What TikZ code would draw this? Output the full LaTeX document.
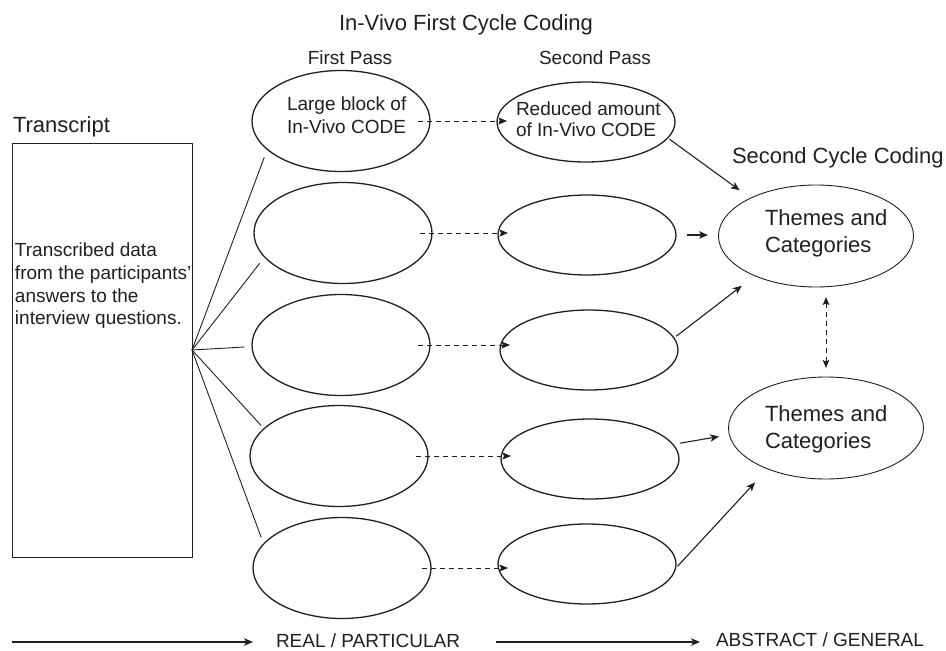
\documentclass[tikz,border=0pt]{standalone}
\usepackage{fontspec}
\setmainfont{Liberation Sans}
\usetikzlibrary{shapes.geometric,arrows.meta,calc}
\definecolor{ink}{HTML}{231F20}
\begin{document}
\begin{tikzpicture}[x=1pt,y=-1pt,
  every node/.style={inner sep=0pt, outer sep=0pt, text=ink},
  oval/.style={ellipse, draw=ink, line width=1.3pt, minimum width=178pt},
  fpass/.style={oval, minimum height=101pt},
  spass/.style={oval, minimum height=80pt},
  theme/.style={ellipse, draw=ink, line width=0.9pt, minimum width=195pt, minimum height=102pt},
  big/.style={font=\fontsize{22}{26.6}\selectfont},
  small/.style={font=\fontsize{19}{22.7}\selectfont},
  fanline/.style={draw=ink, line width=0.9pt},
  solarr/.style={draw=ink, line width=1.1pt, -{Stealth[length=9pt,width=7.5pt,inset=2.5pt]}},
  dasharr/.style={draw=ink, line width=1pt, dash pattern=on 5pt off 4pt,
                  -{Stealth[length=8.5pt,width=7pt,inset=1.5pt]}},
  ddarr/.style={draw=ink, line width=1pt, dash pattern=on 5pt off 4pt,
                {Stealth[length=8pt,width=6.5pt,inset=1.5pt]}-{Stealth[length=8pt,width=6.5pt,inset=1.5pt]}},
]
\fill[white] (0,0) rectangle (946,651);
\useasboundingbox (0,0) rectangle (946,651);

% headings
\node[big, anchor=base] (title) at (466,30) {In-Vivo First Cycle Coding};
\node[small, anchor=base] (fplbl) at (350,64) {First Pass};
\node[small, anchor=base] (splbl) at (595,64) {Second Pass};
\node[big, anchor=base west] (trlbl) at (13,132) {Transcript};
\node[big, anchor=base west] (sclbl) at (732,163) {Second Cycle Coding};

% transcript box
\node[draw=ink, line width=0.9pt, minimum width=180pt, minimum height=414pt] (tr) at (102,350) {};
\node[small, align=left, anchor=north west] (trtext) at (15,243)
  {Transcribed data\\from the participants'\\answers to the\\interview questions.};

% first pass
\node[fpass] (f1) at (341,121) {};
\node[fpass] (f2) at (343,233) {};
\node[fpass] (f3) at (341,345) {};
\node[fpass] (f4) at (339,456) {};
\node[fpass] (f5) at (342,568) {};
\node[small, align=left, anchor=north west] (f1t) at (287,97) {Large block of\\In-Vivo CODE};

% second pass
\node[spass] (s1) at (586,122) {};
\node[spass] (s2) at (587,235) {};
\node[spass] (s3) at (589,350) {};
\node[spass] (s4) at (590,459) {};
\node[spass] (s5) at (587,564) {};
\node[font=\fontsize{19}{21.7}\selectfont, align=left, anchor=north west] (s1t) at (516,101.5)
  {Reduced amount\\of In-Vivo CODE};

% second cycle
\node[theme] (t1) at (816,236) {};
\node[theme] (t2) at (826,428) {};
\node[big, align=left, anchor=north west] (t1t) at (765,210) {Themes and\\Categories};
\node[big, align=left, anchor=north west] (t2t) at (765,406) {Themes and\\Categories};

% transcript fan
\draw[fanline, shorten >=8.5pt] (tr.east) -- (f1.201);
\draw[fanline, shorten >=8pt]   (tr.east) -- (f2.197.5);
\draw[fanline, shorten >=7.5pt] (tr.east) -- (f3.181);
\draw[fanline, shorten >=4.5pt] (tr.east) -- (f4.160);
\draw[fanline, shorten >=7pt]   (tr.east) -- (f5.163);

% first pass to second pass
\draw[dasharr, shorten <=-12pt, shorten >=-10pt] (f1.east) -- (f1.east -| s1.west);
\draw[dasharr, shorten <=-12pt, shorten >=-10pt] (f2.east) -- (f2.east -| s2.west);
\draw[dasharr, shorten <=-12pt, shorten >=-10pt] (f3.east) -- (f3.east -| s3.west);
\draw[dasharr, shorten <=-12pt, shorten >=-10pt] (f4.east) -- (f4.east -| s4.west);
\draw[dasharr, shorten <=-9pt, shorten >=-10pt]  (f5.east) -- (f5.east -| s5.west);

% second pass to themes
\draw[solarr, shorten <=2.5pt, shorten >=13.5pt] (s1.-11) -- (t1.150);
\draw[solarr, shorten <=10.5pt, shorten >=10.5pt] (s2.east) -- (s2.east -| t1.west);
\draw[solarr, shorten <=3pt, shorten >=16.5pt] (s3.8) -- (t1.213);
\draw[solarr, shorten <=7pt, shorten >=10.5pt] (s4.10) -- (t2.184);
\draw[solarr, shorten <=3pt, shorten >=18.5pt] (s5.-3) -- (t2.215);

% between the two theme groups
\draw[ddarr, shorten <=10pt, shorten >=9pt] (t2.north |- t1.south) -- (t2.north);

% bottom axis
\coordinate (b0) at (12,642);
\node[small, anchor=base west] (rp) at (276,647.5) {REAL / PARTICULAR};
\node[small, anchor=base west] (ag) at (716,646) {ABSTRACT / GENERAL};
\draw[solarr, shorten >=23pt] (b0) -- (b0 -| rp.west);
\draw[solarr, shorten <=36pt, shorten >=16pt] (b0 -| rp.east) -- (b0 -| ag.west);
\end{tikzpicture}
\end{document}
